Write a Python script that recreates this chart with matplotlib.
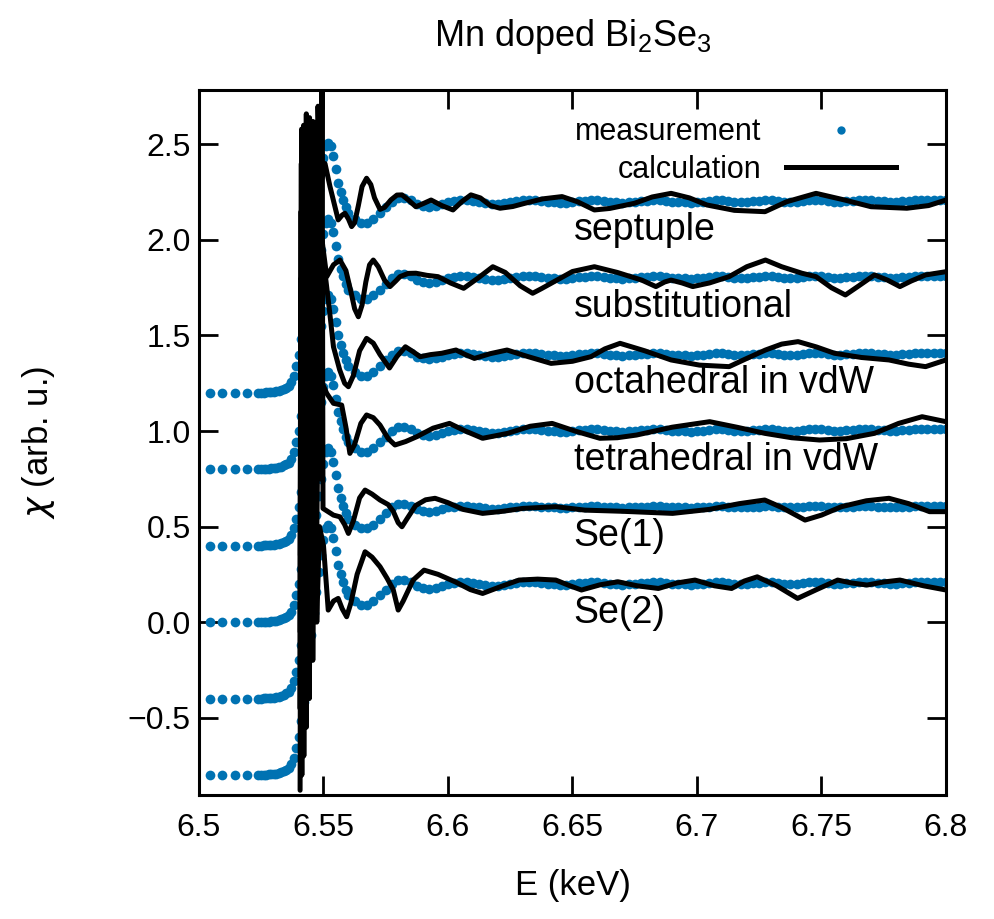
import numpy as np
import matplotlib
matplotlib.use("Agg")
import matplotlib.pyplot as plt
from matplotlib.lines import Line2D
from matplotlib.ticker import FuncFormatter, MultipleLocator

plt.rcParams['font.family'] = ['Liberation Sans', 'DejaVu Sans']
plt.rcParams['mathtext.fontset'] = 'dejavusans'
plt.rcParams['mathtext.default'] = 'regular'
plt.rcParams['axes.unicode_minus'] = True

BLUE = '#0072B2'

# measured Mn K-edge (normalised, shared by all offsets)
e_pre = [6.5044, 6.5093, 6.5143, 6.5192, 6.5238]
mu_pre = [0.0, 0.0, 0.0, 0.0, 0.0]

mu_edge = [0.000, 0.001, 0.002, 0.003, 0.004, 0.005, 0.007, 0.010, 0.014, 0.020,
           0.027, 0.035, 0.055, 0.09, 0.14, 0.20, 0.28, 0.38, 0.49, 0.61,
           0.73, 0.85, 0.96, 1.06, 1.15, 1.23, 1.29, 1.31, 1.29, 1.24,
           1.17, 1.10, 1.05, 1.01, 0.97, 0.94]          # 6.525 .. 6.560, 0.001 step

mu_post = [0.91, 0.89, 0.89, 0.91, 0.94, 0.97, 1.00, 1.02, 1.02, 1.01,
           0.99, 0.98, 0.975, 0.98, 0.99, 1.00, 1.005, 1.01, 1.01, 1.005,
           1.0, 0.995, 0.99, 0.99, 0.995, 1.0, 1.005, 1.01, 1.01, 1.01,
           1.005, 1.0, 1.0, 0.995, 0.995, 1.0, 1.005, 1.005, 1.01, 1.01,
           1.005, 1.0, 1.0, 0.995, 1.0, 1.0, 1.005, 1.005, 1.01, 1.01,
           1.005, 1.0, 1.0, 1.0, 0.995, 1.0, 1.0, 1.005, 1.01, 1.01,
           1.005, 1.0, 1.0, 1.0, 1.005, 1.005, 1.01, 1.01, 1.005, 1.0,
           1.0, 1.0, 1.005, 1.01, 1.01, 1.01, 1.005, 1.0, 1.0, 1.005,
           1.005, 1.01, 1.01, 1.01, 1.005, 1.005, 1.0, 1.0, 1.005, 1.005,
           1.01, 1.01, 1.01, 1.01, 1.01, 1.01]          # 6.5625 .. 6.8, 0.0025 step

e_edge = np.round(6.525 + 0.001 * np.arange(len(mu_edge)), 4)
e_post = np.round(6.5625 + 0.0025 * np.arange(len(mu_post)), 4)
e_meas = np.concatenate([e_pre, e_edge, e_post])
mu_meas = np.concatenate([mu_pre, mu_edge, mu_post])

names = ['Se(2)', 'Se(1)', 'tetrahedral in vdW', 'octahedral in vdW',
         'substitutional', 'septuple']
offsets = [-0.8, -0.4, 0.0, 0.4, 0.8, 1.2]

# calculated spectra (already offset), one (E, chi) list per site
calc_se2 = [
    (6.5406, -0.88), (6.5409, 1.00), (6.5413, -0.80), (6.5417, 1.25), (6.5421, -0.70),
    (6.5426, 1.30), (6.5431, -0.55), (6.5437, 1.10), (6.5443, -0.40), (6.5450, 0.95),
    (6.5457, -0.20), (6.5465, 0.80), (6.5473, 0.00), (6.5484, 0.50), (6.5500, 0.40),
    (6.5519, 0.063), (6.5540, 0.11), (6.5559, 0.124), (6.5575, 0.07), (6.5593, 0.028),
    (6.5610, 0.10), (6.5635, 0.25), (6.5667, 0.368), (6.5695, 0.34), (6.5727, 0.29),
    (6.5755, 0.23), (6.5780, 0.17), (6.5800, 0.063), (6.5820, 0.11), (6.5860, 0.22),
    (6.5904, 0.272), (6.5960, 0.25), (6.6030, 0.21), (6.6090, 0.17), (6.6139, 0.15),
    (6.6210, 0.185), (6.6285, 0.22), (6.6360, 0.225), (6.6433, 0.22), (6.6490, 0.19),
    (6.6536, 0.168), (6.6610, 0.195), (6.6683, 0.211), (6.6760, 0.19), (6.6845, 0.176),
    (6.6920, 0.205), (6.6992, 0.22), (6.7070, 0.19), (6.7139, 0.176), (6.7190, 0.215),
    (6.7242, 0.237), (6.7320, 0.19), (6.7404, 0.124), (6.7480, 0.17), (6.7565, 0.22),
    (6.7620, 0.205), (6.7683, 0.194), (6.7750, 0.21), (6.7815, 0.22), (6.7910, 0.19),
    (6.8000, 0.168)]
calc_se1 = [
    (6.5405, -0.45), (6.5408, 1.40), (6.5412, -0.35), (6.5416, 1.60), (6.5420, -0.30),
    (6.5425, 1.75), (6.5430, -0.20), (6.5436, 1.70), (6.5442, -0.05), (6.5449, 1.55),
    (6.5456, 0.15), (6.5464, 1.40), (6.5472, 0.35), (6.5480, 1.30), (6.5489, 0.75),
    (6.5494, 2.95), (6.5498, 0.595), (6.5540, 0.56), (6.5566, 0.551), (6.5585, 0.51),
    (6.5600, 0.464), (6.5620, 0.53), (6.5645, 0.65), (6.5667, 0.691), (6.5695, 0.67),
    (6.5727, 0.639), (6.5760, 0.615), (6.5780, 0.58), (6.5800, 0.52), (6.5815, 0.499),
    (6.5835, 0.54), (6.5870, 0.61), (6.5910, 0.64), (6.5948, 0.648), (6.6000, 0.625),
    (6.6060, 0.59), (6.6139, 0.569), (6.6220, 0.58), (6.6300, 0.595), (6.6433, 0.604),
    (6.6550, 0.586), (6.6700, 0.58), (6.6902, 0.569), (6.7050, 0.59), (6.7170, 0.62),
    (6.7272, 0.639), (6.7340, 0.60), (6.7434, 0.534), (6.7500, 0.56), (6.7580, 0.604),
    (6.7680, 0.635), (6.7771, 0.648), (6.7850, 0.62), (6.7934, 0.578), (6.8000, 0.578)]
calc_tetra = [
    (6.5406, -0.05), (6.5409, 1.80), (6.5413, 0.00), (6.5417, 1.95), (6.5422, 0.05),
    (6.5428, 2.05), (6.5434, 0.15), (6.5440, 2.00), (6.5447, 0.35), (6.5454, 1.90),
    (6.5462, 0.55), (6.5470, 1.75), (6.5479, 0.90), (6.5487, 1.60), (6.5495, 1.25),
    (6.5513, 1.197), (6.5540, 1.145), (6.5573, 1.136), (6.5590, 1.02), (6.5606, 0.883),
    (6.5625, 0.93), (6.5650, 1.04), (6.5673, 1.084), (6.5700, 1.07), (6.5727, 1.031),
    (6.5760, 0.96), (6.5787, 0.927), (6.5830, 0.945), (6.5874, 0.97), (6.5940, 1.015),
    (6.6006, 1.04), (6.6070, 1.00), (6.6139, 0.962), (6.6190, 0.975), (6.6240, 0.988),
    (6.6330, 1.025), (6.6418, 1.04), (6.6510, 1.00), (6.6610, 0.962), (6.6680, 0.965),
    (6.6757, 0.979), (6.6900, 1.02), (6.7051, 1.049), (6.7160, 1.02), (6.7272, 0.988),
    (6.7380, 0.965), (6.7492, 0.953), (6.7600, 0.96), (6.7713, 0.988), (6.7810, 1.04),
    (6.7904, 1.075), (6.8000, 1.049)]
calc_octa = [
    (6.5407, 0.35), (6.5410, 2.15), (6.5414, 0.40), (6.5418, 2.25), (6.5423, 0.50),
    (6.5429, 2.35), (6.5435, 0.65), (6.5442, 2.30), (6.5449, 0.85), (6.5456, 2.20),
    (6.5464, 1.05), (6.5472, 2.05), (6.5481, 1.30), (6.5490, 1.95), (6.5505, 1.84),
    (6.5525, 1.62), (6.5540, 1.441), (6.5565, 1.32), (6.5585, 1.25), (6.5600, 1.232),
    (6.5620, 1.29), (6.5645, 1.42), (6.5673, 1.485), (6.5700, 1.46), (6.5727, 1.40),
    (6.5765, 1.33), (6.5795, 1.39), (6.5829, 1.441), (6.5860, 1.415), (6.5888, 1.389),
    (6.5930, 1.40), (6.5975, 1.407), (6.6032, 1.424), (6.6070, 1.40), (6.6106, 1.38),
    (6.6170, 1.405), (6.6237, 1.424), (6.6320, 1.39), (6.6414, 1.354), (6.6500, 1.365),
    (6.6574, 1.389), (6.6630, 1.43), (6.6691, 1.459), (6.6790, 1.42), (6.6896, 1.372),
    (6.7010, 1.345), (6.7129, 1.337), (6.7200, 1.38), (6.7275, 1.424), (6.7340, 1.455),
    (6.7406, 1.468), (6.7480, 1.44), (6.7552, 1.407), (6.7660, 1.385), (6.7771, 1.372),
    (6.7850, 1.35), (6.7918, 1.337), (6.8000, 1.372)]
calc_subst = [
    (6.5408, 0.75), (6.5411, 2.40), (6.5415, 0.80), (6.5419, 2.48), (6.5424, 0.90),
    (6.5430, 2.52), (6.5436, 1.05), (6.5443, 2.55), (6.5450, 1.25), (6.5458, 2.55),
    (6.5466, 1.45), (6.5474, 2.35), (6.5485, 2.10), (6.5499, 1.948), (6.5513, 1.808),
    (6.5540, 1.87), (6.5566, 1.895), (6.5590, 1.84), (6.5610, 1.73), (6.5625, 1.64),
    (6.5640, 1.598), (6.5655, 1.66), (6.5670, 1.78), (6.5685, 1.87), (6.5700, 1.895),
    (6.5720, 1.86), (6.5745, 1.79), (6.5767, 1.756), (6.5790, 1.785), (6.5807, 1.808),
    (6.5840, 1.825), (6.5871, 1.826), (6.5915, 1.815), (6.5960, 1.808), (6.6010, 1.775),
    (6.6063, 1.747), (6.6120, 1.80), (6.6180, 1.86), (6.6230, 1.83), (6.6290, 1.76),
    (6.6340, 1.721), (6.6375, 1.745), (6.6414, 1.773), (6.6500, 1.835), (6.6588, 1.86),
    (6.6680, 1.83), (6.6778, 1.79), (6.6835, 1.756), (6.6870, 1.78), (6.6896, 1.79),
    (6.6940, 1.775), (6.6983, 1.756), (6.7050, 1.775), (6.7129, 1.808), (6.7200, 1.86),
    (6.7275, 1.895), (6.7340, 1.86), (6.7421, 1.826), (6.7478, 1.808), (6.7540, 1.75),
    (6.7596, 1.712), (6.7650, 1.76), (6.7713, 1.817), (6.7765, 1.79), (6.7815, 1.756),
    (6.7860, 1.785), (6.7918, 1.817), (6.8000, 1.834)]
calc_sept = [
    (6.5409, 1.15), (6.5412, 2.58), (6.5416, 1.40), (6.5420, 2.60), (6.5425, 1.60),
    (6.5431, 2.66), (6.5437, 1.75), (6.5444, 2.64), (6.5451, 1.90), (6.5458, 2.62),
    (6.5466, 2.00), (6.5478, 2.70), (6.5490, 2.30), (6.5506, 2.40), (6.5526, 2.28),
    (6.5559, 2.105), (6.5575, 2.13), (6.5586, 2.14), (6.5600, 2.11), (6.5613, 2.07),
    (6.5625, 2.09), (6.5640, 2.18), (6.5655, 2.28), (6.5673, 2.323), (6.5690, 2.29),
    (6.5705, 2.22), (6.5727, 2.16), (6.5745, 2.17), (6.5771, 2.21), (6.5795, 2.235),
    (6.5815, 2.236), (6.5840, 2.21), (6.5871, 2.174), (6.5900, 2.19), (6.5932, 2.209),
    (6.5975, 2.18), (6.6020, 2.157), (6.6055, 2.20), (6.6092, 2.236), (6.6130, 2.22),
    (6.6170, 2.18), (6.6209, 2.166), (6.6260, 2.175), (6.6309, 2.192), (6.6380, 2.215),
    (6.6458, 2.227), (6.6520, 2.20), (6.6588, 2.157), (6.6650, 2.165), (6.6749, 2.192),
    (6.6820, 2.225), (6.6896, 2.244), (6.6970, 2.22), (6.7040, 2.183), (6.7150, 2.155),
    (6.7273, 2.148), (6.7360, 2.20), (6.7478, 2.244), (6.7590, 2.21), (6.7699, 2.174),
    (6.7843, 2.166), (6.7930, 2.18), (6.8000, 2.209)]
calcs = [calc_se2, calc_se1, calc_tetra, calc_octa, calc_subst, calc_sept]

fig = plt.figure(figsize=(9.94, 9.19), dpi=100)
ax = fig.add_axes([0.2002, 0.1349, 0.7515, 0.7672])

for off in offsets:
    ax.plot(e_meas, mu_meas + off, 'o', color=BLUE, ms=7, mew=0, zorder=2)
for c in calcs:
    e, v = zip(*c)
    ax.plot(e, v, '-', color='black', lw=3.6, zorder=3,
            solid_joinstyle='round', solid_capstyle='round')

for name, off in zip(names, offsets):
    ax.text(6.6505, off + 1.0 - 0.15, name, fontsize=27, va='center', ha='left')

ax.set_xlim(6.5, 6.8)
ax.set_ylim(-0.905, 2.785)
ax.xaxis.set_major_locator(MultipleLocator(0.05))
ax.yaxis.set_major_locator(MultipleLocator(0.5))
ax.xaxis.set_major_formatter(FuncFormatter(lambda x, p: '%g' % round(x, 3)))
ax.yaxis.set_major_formatter(FuncFormatter(lambda y, p: ('%.1f' % y).replace('-', '\u2212')))
ax.tick_params(direction='in', length=14, width=2, top=True, right=True,
               labelsize=23)
ax.tick_params(axis='x', pad=13)
ax.tick_params(axis='y', pad=6)
for s in ax.spines.values():
    s.set_linewidth(2.2)

ax.set_xlabel('E (keV)', fontsize=25)
ax.set_ylabel('$\\mathit{\\chi}$ (arb. u.)', fontsize=25)
ax.xaxis.set_label_coords(0.5, -0.105)
ax.yaxis.set_label_coords(-0.19, 0.5)
ax.text(0.5, 1 + 53 / 705, 'Mn doped Bi$_2$Se$_3$', transform=ax.transAxes,
        ha='center', va='center', fontsize=26)

handles = [Line2D([], [], ls='none', marker='o', color=BLUE, ms=6, mew=0),
           Line2D([], [], color='black', lw=3.6)]
ax.legend(handles, ['measurement', 'calculation'], loc='upper right',
          markerfirst=False, frameon=False, fontsize=22, handlelength=3.6,
          handletextpad=0.8, labelspacing=0.25, borderaxespad=0.5,
          bbox_to_anchor=(0.97, 1.0))

fig.savefig('out.png', dpi=100)
